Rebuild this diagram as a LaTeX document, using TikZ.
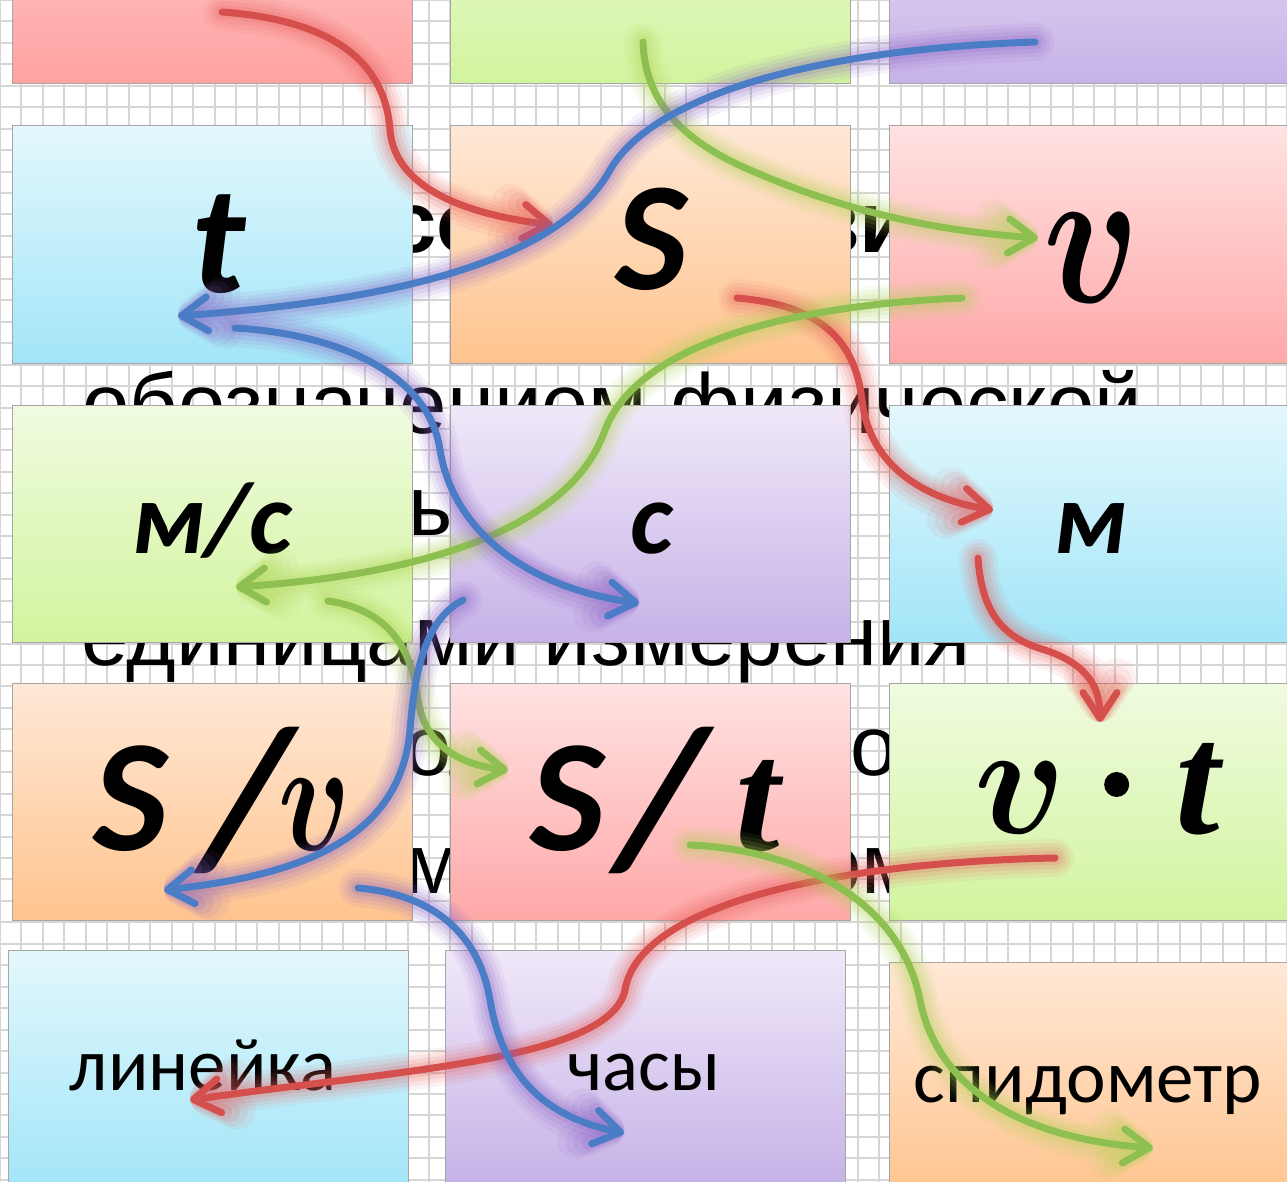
\RequirePackage{fix-cm}
\documentclass[tikz,border=0pt]{standalone}
\usepackage{fontspec}
\usepackage{amsmath}
\setmainfont{Carlito}
\newfontfamily\slidefont{Liberation Sans}
\newfontfamily\timesfont{Liberation Serif}
\usetikzlibrary{arrows.meta,calc}
% box colours (top / bottom of the gradient)
\definecolor{redtop}{HTML}{FFD2D2}\definecolor{redbot}{HTML}{FFA2A2}
\definecolor{pinktop}{HTML}{FFE2E2}\definecolor{pinkbot}{HTML}{FFA8A8}
\definecolor{greentop}{HTML}{F0FBE0}\definecolor{greenbot}{HTML}{D2F49E}
\definecolor{violettop}{HTML}{F0E8F9}\definecolor{violetbot}{HTML}{C6B2E7}
\definecolor{bluetop}{HTML}{E3F8FD}\definecolor{bluebot}{HTML}{A2E5F8}
\definecolor{orangetop}{HTML}{FFE8D6}\definecolor{orangebot}{HTML}{FFC48E}
% arrow colours
\definecolor{arrred}{HTML}{D5504C}\definecolor{glowred}{HTML}{E8605C}
\definecolor{arrblue}{HTML}{4A7DC6}\definecolor{glowblue}{HTML}{8A60C4}
\definecolor{arrgreen}{HTML}{8DC050}\definecolor{glowgreen}{HTML}{B2D455}
\definecolor{gridgray}{HTML}{D6D6D6}

% glowing curved arrow
\newcommand\glowarrow[3]{%
  \foreach \w/\o in {38/.08, 30/.10, 22/.13, 14/.17}
    \draw[line width=\w pt, draw=#2, opacity=\o, line cap=round, line join=round,
          -{Straight Barb[length=26pt, width=34pt, line cap=round, line join=round]}] #3;
  \draw[line width=7pt, draw=#1, line cap=round,
        -{Straight Barb[length=26pt, width=34pt, line cap=round, line join=round]}] #3;}

\begin{document}
\begin{tikzpicture}[x=1pt, y=-1pt,
  box/.style={draw=gray!70, line width=1pt, minimum width=400pt, minimum height=237pt, inner sep=0pt},
  redbox/.style={box, top color=redtop, bottom color=redbot},
  pinkbox/.style={box, top color=pinktop, bottom color=pinkbot},
  greenbox/.style={box, top color=greentop, bottom color=greenbot},
  violetbox/.style={box, top color=violettop, bottom color=violetbot},
  bluebox/.style={box, top color=bluetop, bottom color=bluebot},
  orangebox/.style={box, top color=orangetop, bottom color=orangebot},
  lbl/.style={anchor=base, inner sep=0pt, text=black},
  bgtext/.style={inner sep=0pt, text=black, font=\slidefont\fontsize{85}{85}\selectfont},
  gridline/.style={draw=gridgray, line width=2pt}]
  \useasboundingbox (0,0) rectangle (1287,1182);
  \clip (0,0) rectangle (1287,1182);
  \fill[white] (0,0) rectangle (1287,1182);

  % graph paper
  \foreach \i in {0,...,60} \draw[gridline] ({\i*21.45},0) -- ({\i*21.45},1182);
  \foreach \j in {0,...,56} \draw[gridline] (0,{\j*21.45}) -- (1287,{\j*21.45});

  % slide text behind the cards
  \node[bgtext, font=\slidefont\bfseries\fontsize{87}{87}\selectfont, anchor=base west] (bg1a) at (388,253) {со};
  \node[bgtext, font=\slidefont\bfseries\fontsize{87}{87}\selectfont, anchor=base west] (bg1b) at (816,253) {зи};
  \node[bgtext, anchor=base] (bg2) at (612,433) {обозначением физической};
  \node[bgtext, anchor=base west] (bg3) at (408,535) {ь};
  \node[bgtext, anchor=base] (bg4) at (526,665) {единицами измерения};
  \node[bgtext, anchor=base west] (bg5a) at (404,775) {ол};
  \node[bgtext, anchor=base west] (bg5b) at (850,775) {ой};
  \node[bgtext, anchor=base west] (bg6a) at (404,893) {м};
  \node[bgtext, anchor=base west] (bg6b) at (818,893) {эм};

  % cards
  \node[redbox] (top1) at (212,-34.5) {};
  \node[greenbox] (top2) at (650.5,-34.5) {};
  \node[violetbox] (top3) at (1089,-34.5) {};
  \node[bluebox] (tbox) at (212,244.5) {};
  \node[orangebox] (sbox) at (650.5,244.5) {};
  \node[pinkbox] (vbox) at (1089,244.5) {};
  \node[greenbox] (msbox) at (212,523.5) {};
  \node[violetbox] (secbox) at (650.5,523.5) {};
  \node[bluebox] (mbox) at (1089,523.5) {};
  \node[orangebox] (svbox) at (212,802) {};
  \node[pinkbox] (stbox) at (650.5,802) {};
  \node[greenbox] (vtbox) at (1089,802) {};
  \node[bluebox] (rulerbox) at (208,1068.5) {};
  \node[violetbox] (clockbox) at (645.5,1068.5) {};
  \node[orangebox] (speedbox) at (1089,1080.5) {};

  % card labels
  \node[lbl, font=\fontsize{155}{155}\selectfont\bfseries\itshape] (tlbl) at (218,292) {t};
  \node[lbl, font=\fontsize{155}{155}\selectfont\bfseries\itshape] (slbl) at (652,290) {S};
  \node[lbl, font=\fontsize{200}{200}\selectfont\boldmath] (vlbl) at (1092,302) {\scalebox{.8}[1]{$v$}};
  \node[lbl, font=\fontsize{103}{103}\selectfont\bfseries\itshape] (mslbl) at (212,553) {м/с};
  \node[lbl, font=\fontsize{103}{103}\selectfont\bfseries\itshape] (seclbl) at (652,553) {с};
  \node[lbl, font=\fontsize{103}{103}\selectfont\bfseries\itshape] (mlbl) at (1090,553) {м};
  \node[lbl, font=\fontsize{160}{160}\selectfont\bfseries\itshape] (svlbl) at (222,850)
    {S\hspace{36pt}\raisebox{-14pt}{\fontsize{200}{200}\selectfont /}\hspace{-12pt}{\boldmath\scalebox{.75}[1]{$v$}}};
  \node[lbl, font=\fontsize{160}{160}\selectfont\bfseries\itshape] (stlbl) at (655,850)
    {S\hspace{14pt}\raisebox{-14pt}{\fontsize{200}{200}\selectfont /}\hspace{30pt}{\timesfont t}};
  \node[lbl, font=\fontsize{160}{160}\selectfont\boldmath] (vtlbl) at (1097,833)
    {\scalebox{.95}[1]{$v$}\hspace{38pt}\raisebox{36pt}{\tikz\fill (0,0) circle (12.5pt);}\hspace{46pt}{\timesfont\bfseries\itshape t}};
  \node[lbl, font=\fontsize{75}{75}\selectfont] (rulerlbl) at (203,1090) {линейка};
  \node[lbl, font=\fontsize{75}{75}\selectfont] (clocklbl) at (644,1090) {часы};
  \node[lbl, font=\fontsize{75}{75}\selectfont] (speedlbl) at (1088,1102) {спидометр};

  % arrow end points
  \coordinate (r1a) at (222,12);   \coordinate (r1b) at (390,130);   \coordinate (r1c) at (553,225);
  \coordinate (r2a) at (737,298);  \coordinate (r2b) at (862,400);   \coordinate (r2c) at (993,510);
  \coordinate (r3a) at (978,558);  \coordinate (r3b) at (1045,650);  \coordinate (r3c) at (1100,722);
  \coordinate (r4a) at (1055,858); \coordinate (r4b) at (625,990);   \coordinate (r4c) at (190,1100);
  \coordinate (g1a) at (643,42);   \coordinate (g1b) at (750,170);   \coordinate (g1c) at (1038,238);
  \coordinate (g2a) at (962,298);  \coordinate (g2b) at (605,430);   \coordinate (g2c) at (236,587);
  \coordinate (g3a) at (328,601);  \coordinate (g3b) at (418,700);   \coordinate (g3c) at (508,770);
  \coordinate (g4a) at (690,845);  \coordinate (g4b) at (920,1000);  \coordinate (g4c) at (1153,1148);
  \coordinate (b1a) at (1035,42);  \coordinate (b1b) at (610,170);   \coordinate (b1c) at (178,316);
  \coordinate (b2a) at (235,328);  \coordinate (b2b) at (440,450);   \coordinate (b2c) at (639,603);
  \coordinate (b3a) at (463,600);  \coordinate (b3b) at (410,730);   \coordinate (b3c) at (164,890);
  \coordinate (b4a) at (358,888);  \coordinate (b4b) at (490,1000);  \coordinate (b4c) at (624,1133);

  % red arrows
  \glowarrow{arrred}{glowred}{(r1a) .. controls (330,20) and (385,60) .. (r1b) .. controls (395,190) and (470,215) .. (r1c)}
  \glowarrow{arrred}{glowred}{(r2a) .. controls (820,305) and (855,340) .. (r2b) .. controls (870,470) and (930,500) .. (r2c)}
  \glowarrow{arrred}{glowred}{(r3a) .. controls (982,620) and (1010,640) .. (r3b) .. controls (1090,665) and (1100,690) .. (r3c)}
  \glowarrow{arrred}{glowred}{(r4a) .. controls (850,862) and (640,900) .. (r4b) .. controls (610,1060) and (400,1070) .. (r4c)}
  % green arrows
  \glowarrow{arrgreen}{glowgreen}{(g1a) .. controls (645,100) and (680,140) .. (g1b) .. controls (830,205) and (920,230) .. (g1c)}
  \glowarrow{arrgreen}{glowgreen}{(g2a) .. controls (800,305) and (640,340) .. (g2b) .. controls (570,530) and (420,575) .. (g2c)}
  \glowarrow{arrgreen}{glowgreen}{(g3a) .. controls (390,610) and (412,650) .. (g3b) .. controls (425,745) and (460,765) .. (g3c)}
  \glowarrow{arrgreen}{glowgreen}{(g4a) .. controls (800,850) and (900,900) .. (g4b) .. controls (940,1100) and (1040,1140) .. (g4c)}
  % blue arrows
  \glowarrow{arrblue}{glowblue}{(b1a) .. controls (800,50) and (650,100) .. (b1b) .. controls (560,260) and (400,300) .. (b1c)}
  \glowarrow{arrblue}{glowblue}{(b2a) .. controls (350,335) and (430,380) .. (b2b) .. controls (455,540) and (540,590) .. (b2c)}
  \glowarrow{arrblue}{glowblue}{(b3a) .. controls (425,620) and (415,670) .. (b3b) .. controls (400,840) and (300,875) .. (b3c)}
  \glowarrow{arrblue}{glowblue}{(b4a) .. controls (440,895) and (480,940) .. (b4b) .. controls (505,1090) and (560,1120) .. (b4c)}
\end{tikzpicture}
\end{document}
